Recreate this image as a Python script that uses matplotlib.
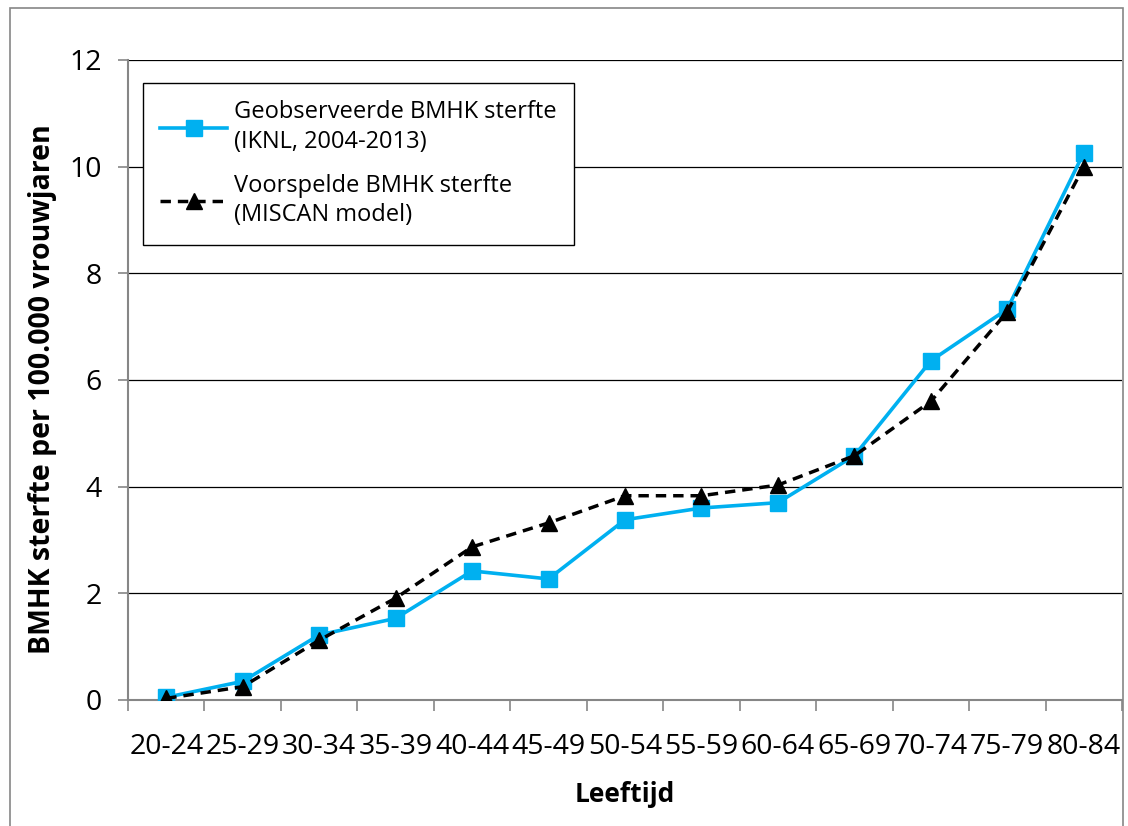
import matplotlib.pyplot as plt
from matplotlib.patches import Rectangle
from matplotlib.ticker import FixedLocator

plt.rcParams['font.family'] = ['Open Sans', 'DejaVu Sans']

# leeftijdsgroepen
categories = ['20-24', '25-29', '30-34', '35-39', '40-44', '45-49', '50-54',
              '55-59', '60-64', '65-69', '70-74', '75-79', '80-84']
# geobserveerde sterfte (IKNL)
observed = [0.05, 0.35, 1.22, 1.53, 2.42, 2.27, 3.38, 3.60, 3.70, 4.58, 6.36, 7.33, 10.26]
# voorspelde sterfte (MISCAN)
predicted = [0.03, 0.25, 1.12, 1.91, 2.87, 3.32, 3.83, 3.83, 4.03, 4.58, 5.60, 7.28, 10.00]
yticks = [0, 2, 4, 6, 8, 10, 12]

fig = plt.figure(figsize=(11.28, 8.26), dpi=100)
# rand om de hele grafiek
fig.patches.append(Rectangle((10 / 1128, -0.01), 1113 / 1128, 1 - 8 / 826 + 0.01,
                             transform=fig.transFigure, fill=False,
                             edgecolor='#868686', linewidth=1.2))

ax = fig.add_axes([128 / 1128, 1 - 700 / 826, (1122 - 128) / 1128, (700 - 60) / 826])
x = list(range(len(categories)))

ax.plot(x, observed, color='#00B0F0', linewidth=2.6, marker='s', markersize=11,
        label='Geobserveerde BMHK sterfte\n(IKNL, 2004-2013)', zorder=3)
ax.plot(x, predicted, color='black', linewidth=2.5, linestyle=(0, (3, 2)),
        marker='^', markersize=11, label='Voorspelde BMHK sterfte\n(MISCAN model)', zorder=4)

ax.set_xlim(-0.5, len(categories) - 0.5)
ax.set_ylim(0, 12)
ax.set_yticks(yticks)
ax.set_xticks(x)
ax.set_xticklabels(categories)
ax.xaxis.set_minor_locator(FixedLocator([i - 0.5 for i in range(len(categories) + 1)]))
ax.tick_params(axis='x', which='major', length=0, labelsize=20.5, pad=24)
ax.tick_params(axis='x', which='minor', length=8, color='#868686', width=1.2)
ax.tick_params(axis='y', length=7, color='#868686', width=1.2, labelsize=20.5, pad=12)

ax.yaxis.grid(True, color='black', linewidth=0.9)
ax.set_axisbelow(True)
for side in ['top', 'right']:
    ax.spines[side].set_visible(False)
for side in ['left', 'bottom']:
    ax.spines[side].set_color('#868686')
    ax.spines[side].set_linewidth(1.5)

ax.set_ylabel('BMHK sterfte per 100.000 vrouwjaren', fontsize=20.5, fontweight='bold')
ax.yaxis.set_label_coords(-0.071, 0.485)
ax.set_xlabel('Leeftijd', fontsize=19, fontweight='bold', labelpad=14)

leg = ax.legend(loc='upper left', bbox_to_anchor=(0.003, 0.983), fontsize=17,
                fancybox=False, framealpha=1, edgecolor='black', handlelength=2.8,
                labelspacing=0.85, borderpad=0.75, handletextpad=0.3)
for t in leg.get_texts():
    t.set_linespacing(1.3)
leg.get_frame().set_linewidth(1.0)

fig.savefig('out.png', dpi=100)
